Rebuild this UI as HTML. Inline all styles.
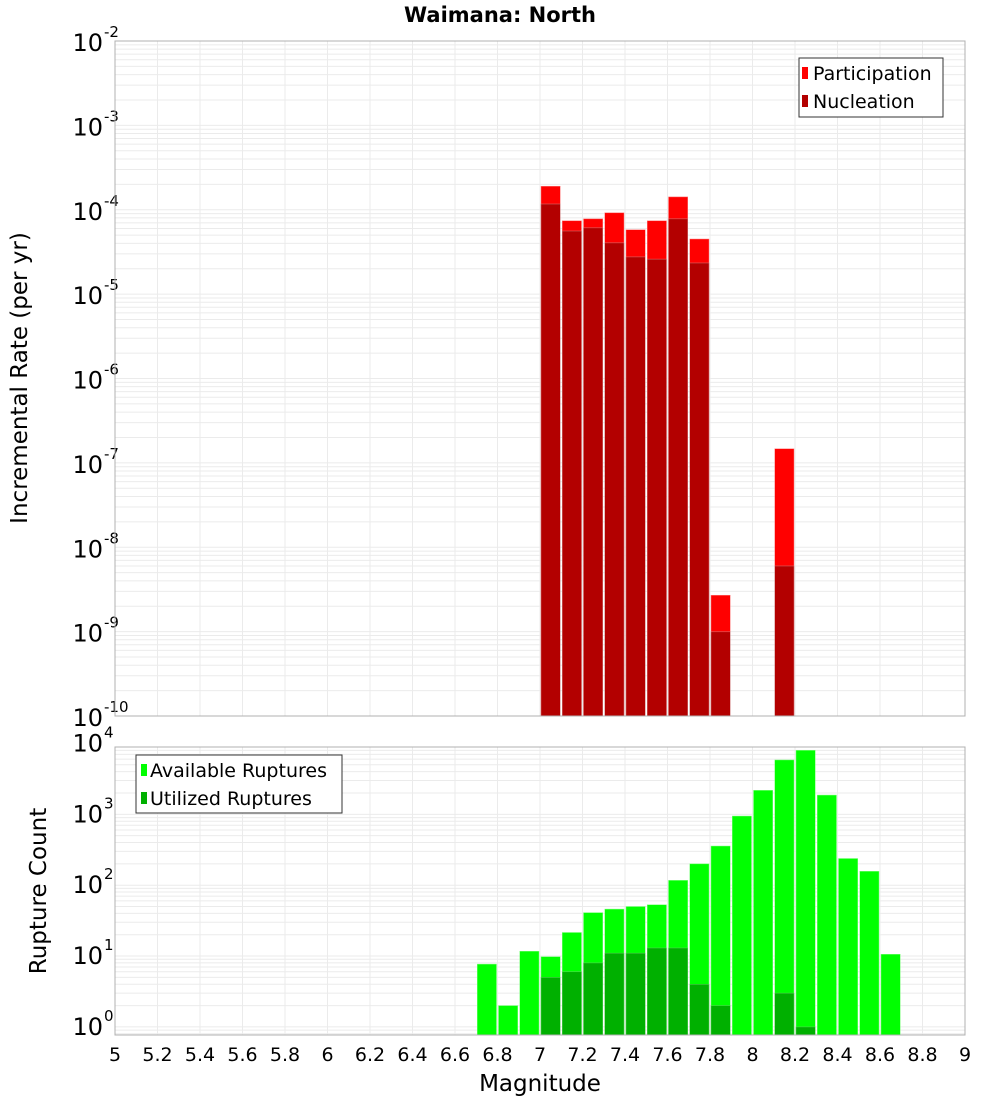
<!DOCTYPE html>
<html><head><meta charset="utf-8">
<style>
body{margin:0;background:#fff;}
svg{display:block;font-family:"Liberation Sans","DejaVu Sans",sans-serif;}
</style></head>
<body>
<svg id="chart" width="1000" height="1100" xmlns="http://www.w3.org/2000/svg">
<text x="500" y="22" text-anchor="middle" font-size="21" font-weight="bold" font-family="DejaVu Sans, sans-serif">Waimana: North</text>
<g id="top"></g>
<g id="bot"></g>
</svg>
<script>
// top panel data
const topMags = [7.05,7.15,7.25,7.35,7.45,7.55,7.65,7.75,7.85,8.15];
const participation = [1.9e-4,7.4e-5,7.8e-5,9.2e-5,5.8e-5,7.4e-5,1.42e-4,4.5e-5,2.7e-9,1.47e-7];
const nucleation = [1.17e-4,5.6e-5,6.1e-5,4.05e-5,2.76e-5,2.6e-5,7.8e-5,2.34e-5,9.95e-10,6.0e-9];
// bottom panel data
const botMags = [6.75,6.85,6.95,7.05,7.15,7.25,7.35,7.45,7.55,7.65,7.75,7.85,7.95,8.05,8.15,8.25,8.35,8.45,8.55,8.65];
const available = [7.7,2,11.7,9.8,21.5,41,46,50,53,117,200,357,946,2180,5850,8000,1870,238,157,10.6];
const utilized = [0,0,0,5,6,8,11,11,13,13,4,2,0,0,3,1,0,0,0,0];
const xTicks = [5,5.2,5.4,5.6,5.8,6,6.2,6.4,6.6,6.8,7,7.2,7.4,7.6,7.8,8,8.2,8.4,8.6,8.8,9];
const topDecades = [-10,-9,-8,-7,-6,-5,-4,-3,-2];
const botDecades = [0,1,2,3,4];

const NS="http://www.w3.org/2000/svg";
function mk(parent,tag,attrs,name){const e=document.createElementNS(NS,tag);for(const k in attrs)e.setAttribute(k,attrs[k]);


parent.appendChild(e);return e;}
const L=115,R=965;
const xs=m=>L+(m-5)/4*(R-L);

function panel(g,top,bottom,yLogTop,yLogBottom,decades,labelDy){
  const ys=v=>top+(yLogTop-Math.log10(v))/(yLogTop-yLogBottom)*(bottom-top);
  // minor grid
  for(let d=Math.floor(yLogBottom);d<yLogTop;d++){
    for(let k=1;k<10;k++){const v=k*Math.pow(10,d);const lv=Math.log10(v);if(lv<yLogBottom||lv>yLogTop)continue;
      const y=ys(v);mk(g,'line',{x1:L,x2:R,y1:y,y2:y,stroke:'#ebebeb','stroke-width':1},'h-gridline');}
  }
  xTicks.forEach(t=>{const x=xs(t);mk(g,'line',{x1:x,x2:x,y1:top,y2:bottom,stroke:'#ebebeb','stroke-width':1},'v-gridline');});
  decades.forEach(d=>{const y=ys(Math.pow(10,d));
    const t=mk(g,'text',{x:103,y:y+labelDy,'text-anchor':'end','font-size':24,'font-family':'DejaVu Sans, sans-serif'},'y-tick-label');
    t.textContent='10';
    const s=mk(g,'text',{x:104,y:y+labelDy-14,'font-size':15,'font-family':'DejaVu Sans, sans-serif'},'y-tick-exponent');
    s.textContent=String(d).replace('-','-');
  });
  return ys;
}

const gt=document.getElementById('top');
const ysT=panel(gt,41,716,-2,-10,topDecades,10);
topMags.forEach((m,i)=>{
  const x0=xs(m-0.05)+1,w=xs(m+0.05)-xs(m-0.05)-2;
  let y=ysT(participation[i]);mk(gt,'rect',{x:x0,y:y,width:w,height:716-y,fill:'#ff0000',stroke:'#ff8080','stroke-width':0.5},'participation-bar');
  y=ysT(nucleation[i]);mk(gt,'rect',{x:x0,y:y,width:w,height:716-y,fill:'#b30000',stroke:'#d08080','stroke-width':0.5},'nucleation-bar');
});
mk(gt,'rect',{x:L,y:41,width:R-L,height:675,fill:'none',stroke:'#b0b0b0','stroke-width':1},'plot-border');
let yl=mk(gt,'text',{x:0,y:0,transform:'translate(27,378) rotate(-90)','text-anchor':'middle','font-size':23,'font-family':'DejaVu Sans, sans-serif'},'y-axis-title');
yl.textContent='Incremental Rate (per yr)';
const lg=mk(gt,'g',{},'legend');
mk(lg,'rect',{x:799,y:58,width:144,height:59,fill:'#fff',stroke:'#333','stroke-width':1},'legend-box');
mk(lg,'rect',{x:802,y:67,width:6,height:12,fill:'#ff0000'},'legend-swatch-participation');
mk(lg,'rect',{x:802,y:95,width:6,height:12,fill:'#b30000'},'legend-swatch-nucleation');
let t=mk(lg,'text',{x:813,y:80,'font-size':19,'font-family':'DejaVu Sans, sans-serif'},'legend-participation');t.textContent='Participation';
t=mk(lg,'text',{x:813,y:108,'font-size':19,'font-family':'DejaVu Sans, sans-serif'},'legend-nucleation');t.textContent='Nucleation';

const gb=document.getElementById('bot');
const ysB=panel(gb,747,1035,3.95,-0.114,botDecades,8);
botMags.forEach((m,i)=>{
  const x0=xs(m-0.05)+1,w=xs(m+0.05)-xs(m-0.05)-2;
  let y=ysB(available[i]);mk(gb,'rect',{x:x0,y:y,width:w,height:1035-y,fill:'#00ff00',stroke:'#80ff80','stroke-width':0.5},'available-bar');
  if(utilized[i]>0){y=ysB(utilized[i]);mk(gb,'rect',{x:x0,y:y,width:w,height:1035-y,fill:'#00b000',stroke:'#60d060','stroke-width':0.5},'utilized-bar');}
});
mk(gb,'rect',{x:L,y:747,width:R-L,height:288,fill:'none',stroke:'#b0b0b0','stroke-width':1},'plot-border');
xTicks.forEach(v=>{const tt=mk(gb,'text',{x:xs(v),y:1061,'text-anchor':'middle','font-size':19,'font-family':'DejaVu Sans, sans-serif'},'x-tick-label');tt.textContent=String(v);});
t=mk(gb,'text',{x:540,y:1091,'text-anchor':'middle','font-size':23,'font-family':'DejaVu Sans, sans-serif'},'x-axis-title');t.textContent='Magnitude';
yl=mk(gb,'text',{x:0,y:0,transform:'translate(46,891) rotate(-90)','text-anchor':'middle','font-size':23,'font-family':'DejaVu Sans, sans-serif'},'y-axis-title-count');
yl.textContent='Rupture Count';
const lb=mk(gb,'g',{},'legend-count');
mk(lb,'rect',{x:136,y:755,width:206,height:58,fill:'#fff',stroke:'#333','stroke-width':1},'legend-box');
mk(lb,'rect',{x:141,y:764,width:6,height:12,fill:'#00ff00'},'legend-swatch-available');
mk(lb,'rect',{x:141,y:792,width:6,height:12,fill:'#00b000'},'legend-swatch-utilized');
t=mk(lb,'text',{x:150,y:777,'font-size':19,'font-family':'DejaVu Sans, sans-serif'},'legend-available');t.textContent='Available Ruptures';
t=mk(lb,'text',{x:150,y:805,'font-size':19,'font-family':'DejaVu Sans, sans-serif'},'legend-utilized');t.textContent='Utilized Ruptures';
</script>
</body></html>
